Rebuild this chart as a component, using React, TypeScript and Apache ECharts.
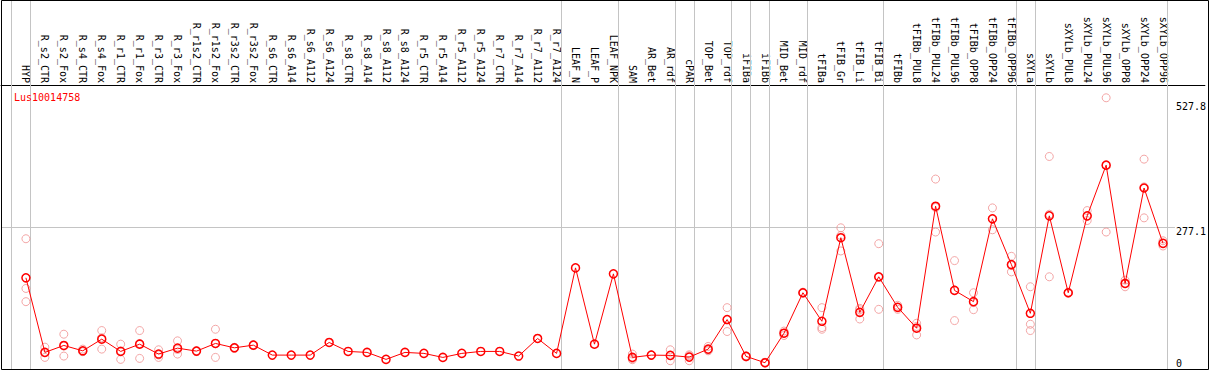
import { useEffect, useRef } from "react";
import * as echarts from "echarts";

const categories = [
  "HYP", "R_s2_CTR", "R_s2_Fox", "R_s4_CTR", "R_s4_Fox", "R_r1_CTR", "R_r1_Fox", "R_r3_CTR", "R_r3_Fox",
  "R_r1s2_CTR", "R_r1s2_Fox", "R_r3s2_CTR", "R_r3s2_Fox", "R_s6_CTR", "R_s6_A14", "R_s6_A112", "R_s6_A124",
  "R_s8_CTR", "R_s8_A14", "R_s8_A112", "R_s8_A124", "R_r5_CTR", "R_r5_A14", "R_r5_A112", "R_r5_A124",
  "R_r7_CTR", "R_r7_A14", "R_r7_A112", "R_r7_A124", "LEAF_N", "LEAF_P", "LEAF_NPK", "SAM", "AR_Bet", "AR_rdf",
  "cPAR", "TOP_Bet", "TOP_rdf", "iFIBa", "iFIBb", "MID_Bet", "MID_rdf", "tFIBa", "tFIB_Gr", "tFIB_Li", "tFIB_Bi",
  "tFIBb", "tFIBb_PUL8", "tFIBb_PUL24", "tFIBb_PUL96", "tFIBb_OPP8", "tFIBb_OPP24", "tFIBb_OPP96", "sXYLa",
  "sXYLb", "sXYLb_PUL8", "sXYLb_PUL24", "sXYLb_PUL96", "sXYLb_OPP8", "sXYLb_OPP24", "sXYLb_OPP96",
];

const meanValues = [
  178.7, 34.1, 47.6, 37.2, 59.8, 36.0, 50.1, 30.9, 42.4, 36.6, 51.5, 43.0, 48.2, 28.9, 28.9, 28.9, 53.4,
  36.0, 34.1, 20.6, 34.1, 32.2, 24.4, 32.2, 36.0, 36.0, 27.0, 61.1, 32.2, 198.0, 50.1, 186.4, 24.4, 28.9, 28.3,
  25.0, 40.5, 97.8, 26.4, 14.1, 71.3, 149.8, 94.5, 256.5, 111.8, 180.7, 121.5, 81.0, 317.6, 154.3, 132.5, 293.1,
  204.4, 109.9, 298.9, 149.8, 298.9, 397.2, 167.8, 352.9, 245.5,
];

const N19 = [null, null, null, null, null, null, null, null, null, null, null, null, null, null, null, null, null, null, null];

const rep1 = [
  254.5, 44.3, 69.4, 40.5, 76.5, 50.1, 76.5, 39.2, 56.5, 37.5, 79.0, 44.0, 49.0, ...N19,
  30.9, 29.0, 39.2, 29.5, 45.7, 120.9, 27.5, 15.0, 75.5, 151.0, 120.9, 275.7, 119.6, 244.9, 125.4, 90.6, 370.2,
  212.1, 149.8, 314.3, 220.4, 161.4, 414.0, 151.0, 309.1, 527.8, 174.2, 408.8, 250.6,
];
const rep2 = [
  158.1, 34.0, 46.5, 36.0, 62.4, 37.3, 51.3, 29.1, 39.8, 36.6, 51.1, 43.0, 48.2, ...N19,
  22.0, 28.9, 27.7, 27.5, 38.6, 97.9, 26.4, 14.1, 71.5, 149.8, 82.3, 260.9, 116.9, 179.6, 121.5, 84.4, 315.1,
  155.0, 130.7, 293.1, 202.5, 88.7, 302.0, 149.8, 297.8, 396.3, 167.8, 355.0, 245.5,
];
const rep3 = [
  132.5, 24.4, 27.0, 35.5, 40.5, 20.6, 22.5, 24.4, 30.9, 35.7, 24.4, 42.0, 47.4, ...N19,
  20.0, 28.8, 18.0, 18.0, 37.2, 74.6, 25.3, 13.2, 66.9, 148.6, 79.0, 230.8, 98.9, 117.6, 117.6, 68.0, 267.5,
  95.8, 117.0, 271.9, 190.3, 76.5, 180.7, 148.6, 289.8, 267.5, 161.4, 295.0, 240.4,
];

const yTickValues = [0, 277.1, 527.8];
const referenceValue = 277.1;
const groupEnds = [-1, 0, 28, 31, 34, 35, 37, 38, 39, 41, 45, 52, 53, 60];
const geneName = "Lus10014758";

const FONT = "'DejaVu Sans Mono', monospace";

export default function App() {
  const ref = useRef<HTMLDivElement>(null);
  useEffect(() => {
    const chart = echarts.init(ref.current!, null, { renderer: "svg" });
    const xMin = -25 / 19;
    const xMax = 1182 / 19;
    const yMax = 717.4;

    const repData: number[][] = [];
    [rep1, rep2, rep3].forEach((arr) => {
      arr.forEach((v, i) => {
        if (v !== null && v !== undefined) repData.push([i, v as number]);
      });
    });

    const option: any = {
      animation: false,
      title: {
        text: geneName,
        left: 9,
        top: 87,
        textStyle: { color: "#ff0000", fontSize: 10, fontFamily: FONT, fontWeight: "normal" },
      },
      grid: { left: 1, top: 0, width: 1207, height: 372, containLabel: false },
      xAxis: {
        type: "value",
        min: xMin,
        max: xMax,
        position: "top",
        offset: -85,
        axisLine: { show: true, onZero: false, lineStyle: { color: "#000", width: 1 } },
        axisTick: { show: false },
        splitLine: { show: false },
        axisLabel: {
          customValues: categories.map((_, i) => i),
          formatter: (v: number) => categories[Math.round(v)] ?? "",
          rotate: 90,
          margin: 2,
          fontFamily: FONT,
          fontSize: 10,
          color: "#000",
          showMinLabel: true,
          showMaxLabel: true,
        },
      },
      yAxis: {
        type: "value",
        min: 0,
        max: yMax,
        position: "right",
        axisLine: { show: false },
        axisTick: { show: false },
        splitLine: { show: false },
        axisLabel: {
          inside: true,
          align: "left",
          margin: 29,
          customValues: yTickValues,
          fontFamily: FONT,
          fontSize: 10,
          color: "#000",
          formatter: (v: number) => {
            const s = String(v);
            if (v === 0) return `{b|${s}}`;
            if (v < 400) return `{m|${s}}`;
            return `{t|${s}}`;
          },
          rich: {
            b: { padding: [0, 0, 14, 0], fontFamily: FONT, fontSize: 10, color: "#000" },
            m: { padding: [8, 0, 0, 0], fontFamily: FONT, fontSize: 10, color: "#000" },
            t: { padding: [17, 0, 0, 0], fontFamily: FONT, fontSize: 10, color: "#000" },
          },
        },
      },
      graphic: [
        {
          type: "rect",
          silent: true,
          z: 100,
          shape: { x: 1.5, y: 0.5, width: 1207, height: 369 },
          style: { fill: "none", stroke: "#000", lineWidth: 1 },
        },
      ],
      series: [
        {
          type: "scatter",
          z: 2,
          data: repData,
          symbol: "circle",
          symbolSize: 8,
          itemStyle: { color: "rgba(0,0,0,0)", borderColor: "#f09090", borderWidth: 1 },
          markLine: {
            silent: true,
            symbol: ["none", "none"],
            label: { show: false },
            z: 1,
            lineStyle: { color: "#c4c4c4", width: 1, type: "solid" },
            data: [
              ...groupEnds.map((e) => ({ xAxis: e + 0.2368 })),
              [{ coord: [xMin, referenceValue] }, { coord: [60.63, referenceValue] }],
            ],
          },
        },
        {
          type: "line",
          z: 3,
          data: meanValues.map((v, i) => [i, v]),
          symbol: "circle",
          symbolSize: 8,
          lineStyle: { color: "#ff0000", width: 1 },
          itemStyle: { color: "rgba(0,0,0,0)", borderColor: "#ff0000", borderWidth: 1.5 },
        },
      ],
    };
    chart.setOption(option);
    return () => chart.dispose();
  }, []);
  return <div ref={ref} style={{ position: "absolute", left: 0, top: 0, width: 1209, height: 370 }} />;
}
